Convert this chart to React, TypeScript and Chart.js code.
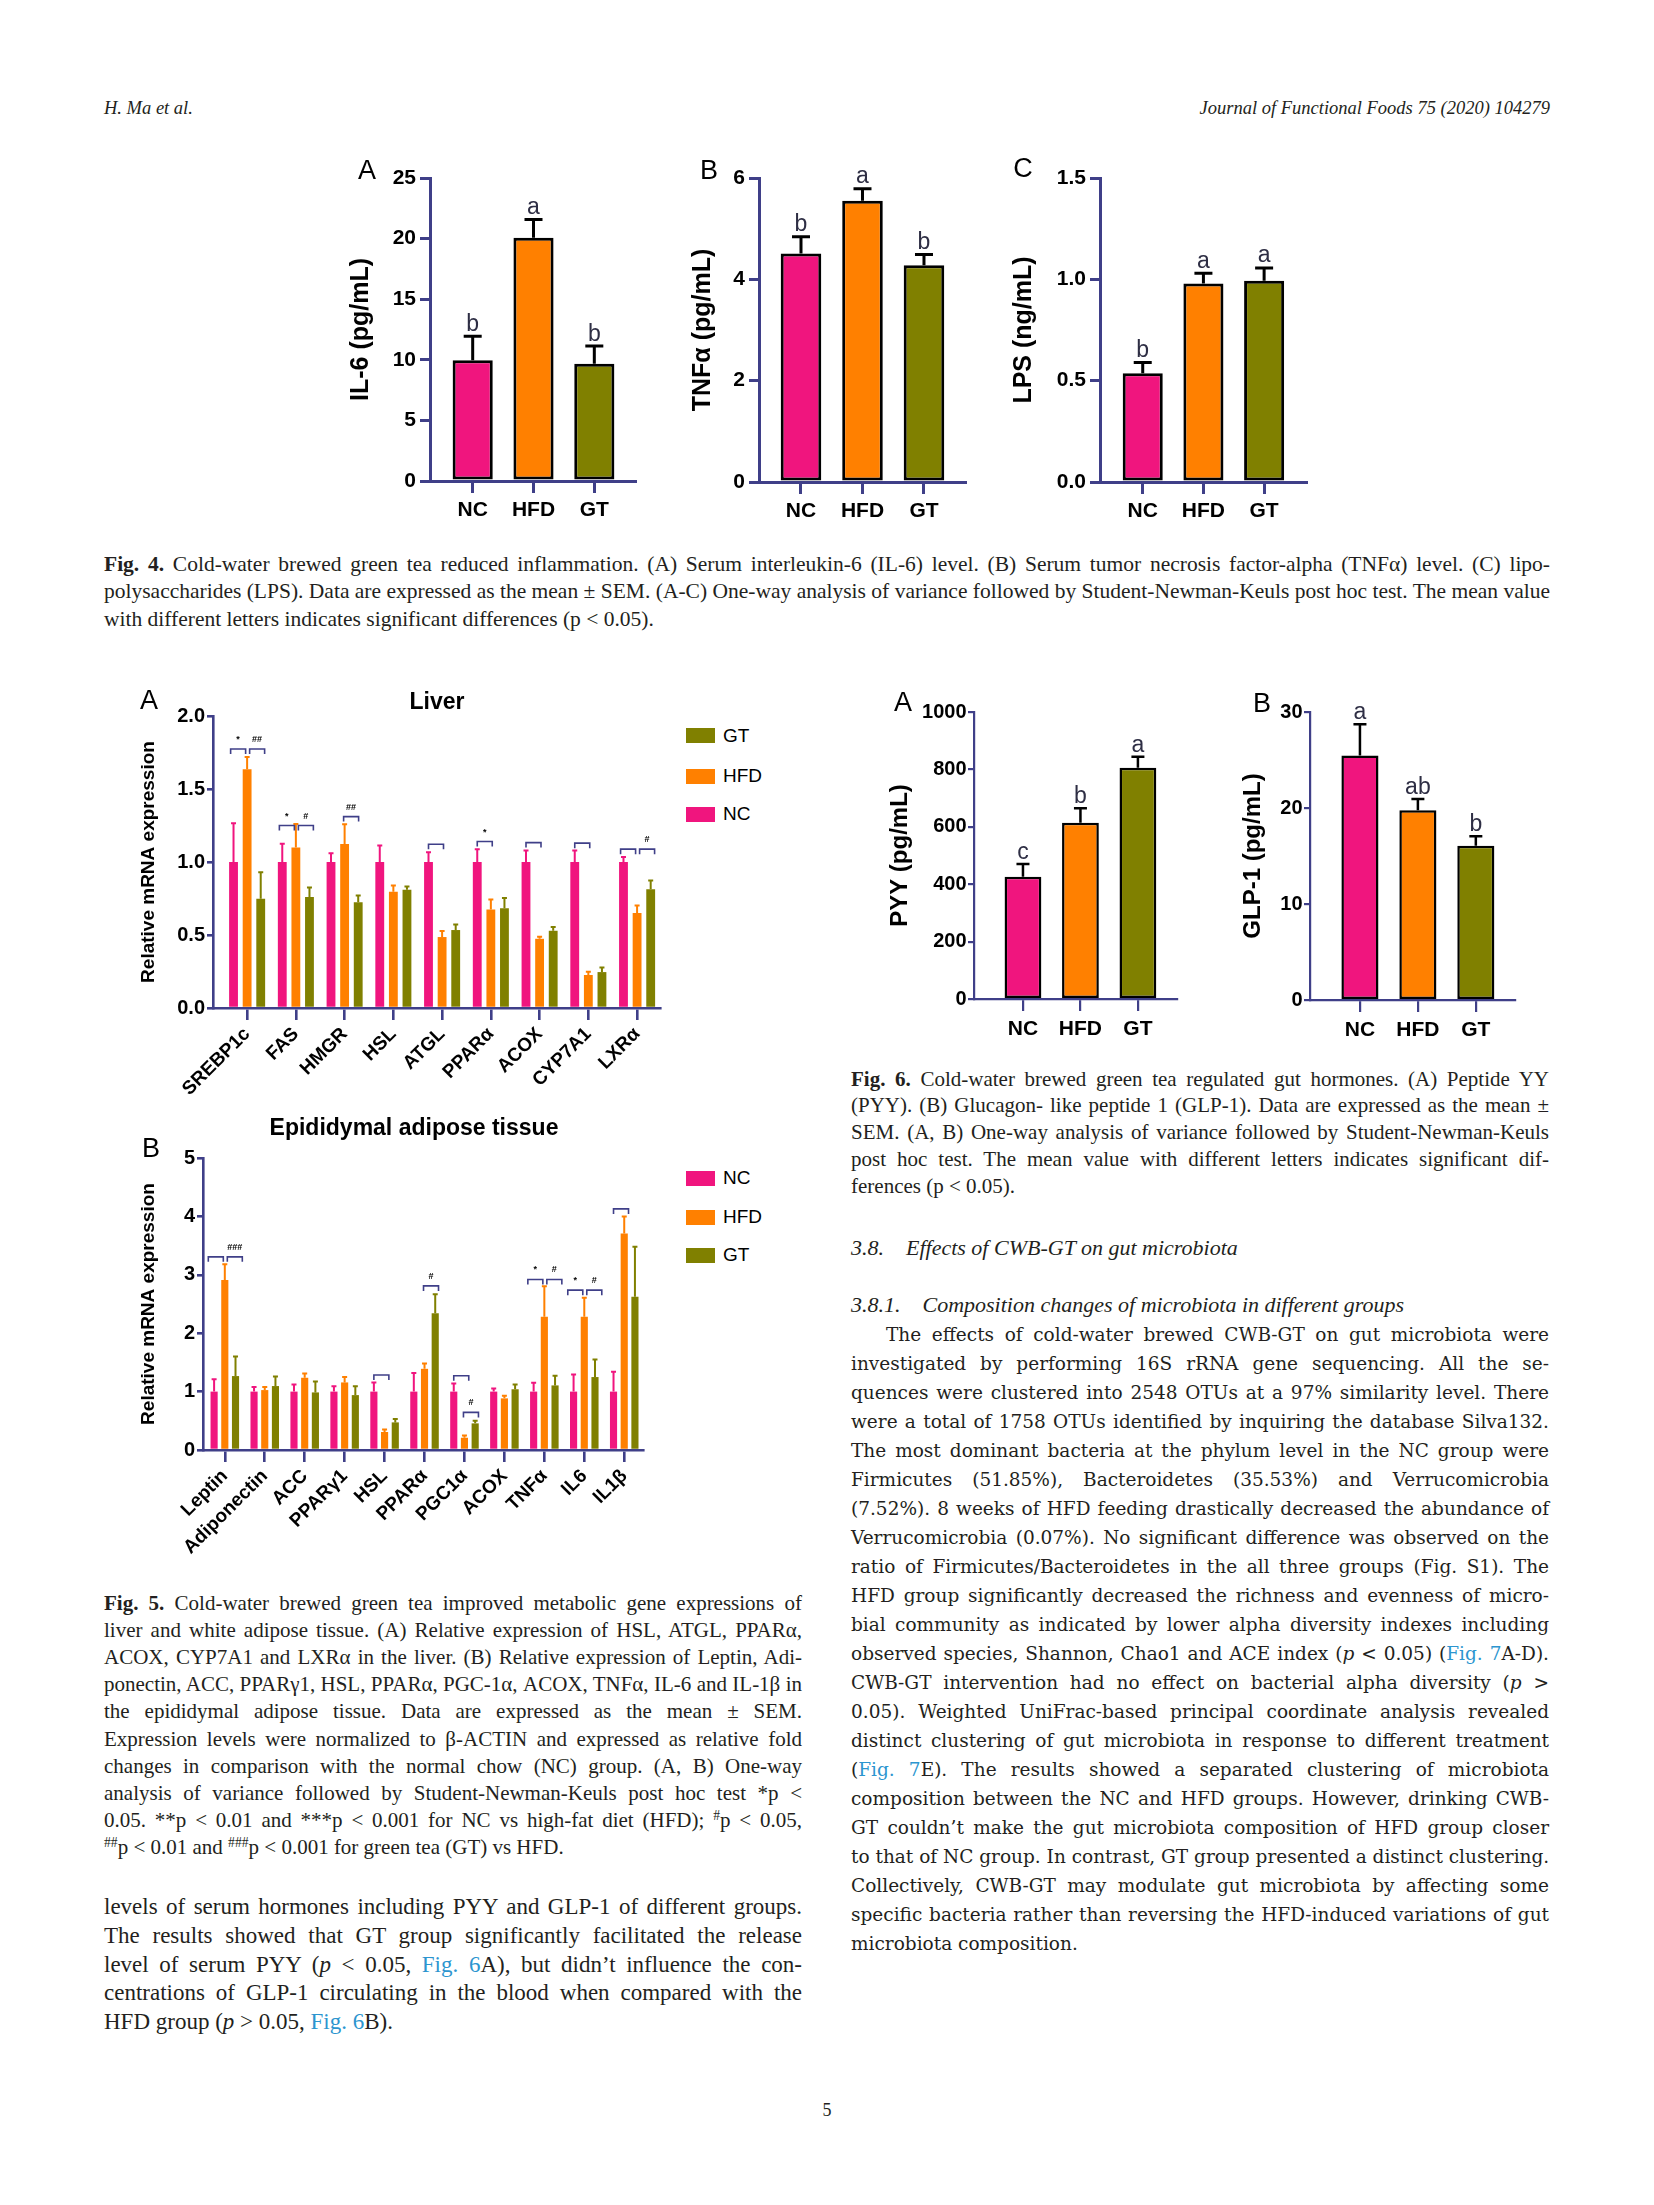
import React, { useEffect, useLayoutEffect, useRef } from 'react';
import { Chart, registerables } from 'chart.js';
Chart.register(...registerables);

// ---------------- data ----------------
const GROUPS = ['NC', 'HFD', 'GT'];
const GROUP_COLORS = ['#f0157e', '#ff8000', '#808000'];

// Fig. 4
const IL6_MEAN = [9.97, 20.08, 9.67];
const IL6_SEM = [1.98, 1.49, 1.46];
const IL6_LETTERS = ['b', 'a', 'b'];
const TNF_MEAN = [4.51, 5.55, 4.28];
const TNF_SEM = [0.33, 0.24, 0.21];
const TNF_LETTERS = ['b', 'a', 'b'];
const LPS_MEAN = [0.537, 0.98, 0.993];
const LPS_SEM = [0.053, 0.05, 0.063];
const LPS_LETTERS = ['b', 'a', 'a'];

// Fig. 6
const PYY_MEAN = [426, 614, 806];
const PYY_SEM = [44, 51, 38];
const PYY_LETTERS = ['c', 'b', 'a'];
const GLP1_MEAN = [25.46, 19.77, 16.06];
const GLP1_SEM = [3.26, 1.18, 1.01];
const GLP1_LETTERS = ['a', 'ab', 'b'];

// Fig. 5A Liver
const LIVER_GENES = ['SREBP1c', 'FAS', 'HMGR', 'HSL', 'ATGL', 'PPARα', 'ACOX', 'CYP7A1', 'LXRα'];
const LIVER_NC = [1, 1, 1, 1, 1, 1, 1, 1, 1];
const LIVER_NC_SEM = [0.266, 0.125, 0.06, 0.113, 0.067, 0.088, 0.079, 0.079, 0.035];
const LIVER_HFD = [1.635, 1.1, 1.124, 0.796, 0.486, 0.675, 0.474, 0.226, 0.65];
const LIVER_HFD_SEM = [0.085, 0.16, 0.135, 0.043, 0.041, 0.068, 0.014, 0.023, 0.052];
const LIVER_GT = [0.748, 0.76, 0.725, 0.81, 0.534, 0.684, 0.529, 0.246, 0.814];
const LIVER_GT_SEM = [0.182, 0.065, 0.045, 0.022, 0.038, 0.069, 0.025, 0.032, 0.059];
// significance brackets: category index, pair (0 = NC-HFD, 1 = HFD-GT), height, symbol
const LIVER_BRACKETS = [
  { cat: 0, pair: 0, y: 1.774, sym: '*' },
  { cat: 0, pair: 1, y: 1.774, sym: '##' },
  { cat: 1, pair: 0, y: 1.25, sym: '*' },
  { cat: 1, pair: 1, y: 1.25, sym: '#' },
  { cat: 2, pair: 1, y: 1.311, sym: '##' },
  { cat: 4, pair: 0, y: 1.122, sym: '' },
  { cat: 5, pair: 0, y: 1.14, sym: '*' },
  { cat: 6, pair: 0, y: 1.133, sym: '' },
  { cat: 7, pair: 0, y: 1.129, sym: '' },
  { cat: 8, pair: 0, y: 1.088, sym: '' },
  { cat: 8, pair: 1, y: 1.088, sym: '#' },
];

// Fig. 5B Epididymal adipose tissue
const ADIPO_GENES = ['Leptin', 'Adiponectin', 'ACC', 'PPARγ1', 'HSL', 'PPARα', 'PGC1α', 'ACOX', 'TNFα', 'IL6', 'IL1β'];
const ADIPO_NC = [1, 1, 1, 1, 1, 1, 1, 1, 1, 1, 1];
const ADIPO_NC_SEM = [0.21, 0.08, 0.12, 0.09, 0.157, 0.317, 0.14, 0.055, 0.15, 0.294, 0.34];
const ADIPO_HFD = [2.91, 1.026, 1.237, 1.157, 0.308, 1.39, 0.21, 0.884, 2.28, 2.28, 3.706];
const ADIPO_HFD_SEM = [0.27, 0.054, 0.073, 0.092, 0.045, 0.09, 0.04, 0.046, 0.525, 0.325, 0.291];
const ADIPO_GT = [1.266, 1.095, 0.986, 0.94, 0.473, 2.343, 0.456, 1.04, 1.106, 1.249, 2.623];
const ADIPO_GT_SEM = [0.334, 0.165, 0.188, 0.15, 0.057, 0.325, 0.044, 0.08, 0.164, 0.301, 0.857];
const ADIPO_BRACKETS = [
  { cat: 0, pair: 0, y: 3.307, sym: '' },
  { cat: 0, pair: 1, y: 3.307, sym: '###' },
  { cat: 4, pair: 0, y: 1.283, sym: '' },
  { cat: 5, pair: 1, y: 2.81, sym: '#' },
  { cat: 6, pair: 0, y: 1.271, sym: '' },
  { cat: 6, pair: 1, y: 0.644, sym: '#' },
  { cat: 8, pair: 0, y: 2.92, sym: '*' },
  { cat: 8, pair: 1, y: 2.92, sym: '#' },
  { cat: 9, pair: 0, y: 2.737, sym: '*' },
  { cat: 9, pair: 1, y: 2.737, sym: '#' },
  { cat: 10, pair: 0, y: 4.128, sym: '' },
];

// ---------------- style ----------------
const AXIS_COLOR = '#3f3f88';
const SANS = '"Liberation Sans", Arial, Helvetica, sans-serif';
const SERIF = '"Liberation Serif", "Times New Roman", serif';
const BODY_SERIF = '"DejaVu Serif", "Liberation Serif", serif';
const INK = '#231f20';
const LINK = '#2c95cf';

type Series = { values: number[]; sem: number[]; color: any };
type Bracket = { cat: number; pair: number; y: number; sym: string };
type Panel = {
  area: number[]; yW: number; padTop: number; padRight: number; xH: number;
  xMin: number; xMax: number; yMax: number; yStep: number; yDec: number;
  labels: string[]; rot: number; series: Series[]; letters?: string[]; brackets?: Bracket[];
  title: string; titleSize: number; titleCenter: number; tickFont: number; labelFont: number;
  yTickLen: number; xTickLen: number; yTickPad: number; xTickPad: number; axisW: number;
  barBorder: number; catPct: number; barPct: number; errColor: string | null; errW: number; cap: number;
  letterFont: number;
};

function simpleSeries(mean: number[], sem: number[]): Series[] {
  // one dataset, each bar coloured by its group
  return [{ values: mean, sem, color: GROUP_COLORS }];
}

const FIG4_BASE = {
  yW: 85, padTop: 40, padRight: 10, xH: 50, rot: 0, labels: GROUPS,
  titleSize: 25, tickFont: 21, labelFont: 21, yTickLen: 10, xTickLen: 12, yTickPad: 4, xTickPad: 5, axisW: 3,
  barBorder: 3, catPct: 1, barPct: 0.66, errColor: '#000', errW: 3, cap: 18, letterFont: 23,
};

const FIG4A: Panel = { ...FIG4_BASE, area: [430, 178, 635, 481], xMin: -0.702, xMax: 2.669, yMax: 25, yStep: 5, yDec: 0,
  series: simpleSeries(IL6_MEAN, IL6_SEM), letters: IL6_LETTERS, title: 'IL-6 (pg/mL)', titleCenter: 361 };
const FIG4B: Panel = { ...FIG4_BASE, yW: 80, area: [759, 178, 965, 482], xMin: -0.683, xMax: 2.667, yMax: 6, yStep: 2, yDec: 0,
  series: simpleSeries(TNF_MEAN, TNF_SEM), letters: TNF_LETTERS, title: 'TNFα (pg/mL)', titleCenter: 703 };
const FIG4C: Panel = { ...FIG4_BASE, yW: 95, area: [1100, 178, 1306, 482], xMin: -0.704, xMax: 2.69, yMax: 1.5, yStep: 0.5, yDec: 1,
  series: simpleSeries(LPS_MEAN, LPS_SEM), letters: LPS_LETTERS, title: 'LPS (ng/mL)', titleCenter: 1024 };

const FIG6_BASE = {
  ...FIG4_BASE, titleSize: 24, tickFont: 20, labelFont: 21, yTickLen: 6, xTickLen: 12, yTickPad: 1.5, xTickPad: 6, axisW: 2.2,
  barBorder: 2.5, barPct: 0.64, errW: 2.5, cap: 13, letterFont: 23,
};
const FIG6A: Panel = { ...FIG6_BASE, yW: 100, area: [974, 712, 1177, 999], xMin: -0.852, xMax: 2.68, yMax: 1000, yStep: 200, yDec: 0,
  series: simpleSeries(PYY_MEAN, PYY_SEM), letters: PYY_LETTERS, title: 'PYY (pg/mL)', titleCenter: 900 };
const FIG6B: Panel = { ...FIG6_BASE, yW: 80, area: [1310, 712, 1515, 1000], xMin: -0.862, xMax: 2.676, yMax: 30, yStep: 10, yDec: 0,
  series: simpleSeries(GLP1_MEAN, GLP1_SEM), letters: GLP1_LETTERS, title: 'GLP-1 (pg/mL)', titleCenter: 1253 };

const FIG5_BASE = {
  padTop: 20, padRight: 5, rot: 45, titleSize: 19, tickFont: 20, labelFont: 19, yTickLen: 6, xTickLen: 12,
  yTickPad: 2, xTickPad: 3, axisW: 2.6, barBorder: 0, errColor: null, errW: 2, cap: 5, letterFont: 20,
  title: 'Relative mRNA expression', titleCenter: 148.6,
};
const FIG5A: Panel = { ...FIG5_BASE, yW: 84, xH: 110, area: [213, 716, 660, 1008], xMin: -0.70, xMax: 8.47, yMax: 2, yStep: 0.5, yDec: 1,
  labels: LIVER_GENES, catPct: 0.837, barPct: 0.65,
  series: [
    { values: LIVER_NC, sem: LIVER_NC_SEM, color: GROUP_COLORS[0] },
    { values: LIVER_HFD, sem: LIVER_HFD_SEM, color: GROUP_COLORS[1] },
    { values: LIVER_GT, sem: LIVER_GT_SEM, color: GROUP_COLORS[2] },
  ], brackets: LIVER_BRACKETS };
const FIG5B: Panel = { ...FIG5_BASE, yW: 75, xH: 125, area: [203, 1158, 643, 1450], xMin: -0.546, xMax: 10.47, yMax: 5, yStep: 1, yDec: 0,
  labels: ADIPO_GENES, catPct: 0.804, barPct: 0.667,
  series: [
    { values: ADIPO_NC, sem: ADIPO_NC_SEM, color: GROUP_COLORS[0] },
    { values: ADIPO_HFD, sem: ADIPO_HFD_SEM, color: GROUP_COLORS[1] },
    { values: ADIPO_GT, sem: ADIPO_GT_SEM, color: GROUP_COLORS[2] },
  ], brackets: ADIPO_BRACKETS };

function buildChart(canvas: HTMLCanvasElement, p: Panel) {
  const [L] = p.area;
  const titlePad = p.titleCenter - (L - p.yW) - (p.titleSize * 1.2) / 2;
  const annot = {
    id: 'annot',
    afterDatasetsDraw(chart: any) {
      const ctx = chart.ctx;
      const ys = chart.scales.y;
      ctx.save();
      p.series.forEach((s, di) => {
        const meta = chart.getDatasetMeta(di);
        meta.data.forEach((bar: any, i: number) => {
          const vy = ys.getPixelForValue(s.values[i]);
          const ty = ys.getPixelForValue(s.values[i] + s.sem[i]);
          const col = p.errColor || (Array.isArray(s.color) ? s.color[i] : s.color);
          ctx.strokeStyle = col;
          ctx.lineWidth = p.errW;
          ctx.lineCap = 'butt';
          ctx.beginPath();
          ctx.moveTo(bar.x, vy);
          ctx.lineTo(bar.x, ty);
          ctx.moveTo(bar.x - p.cap / 2, ty);
          ctx.lineTo(bar.x + p.cap / 2, ty);
          ctx.stroke();
          if (p.letters) {
            ctx.fillStyle = '#2e2e44';
            ctx.font = `${p.letterFont}px ${SANS}`;
            ctx.textAlign = 'center';
            ctx.textBaseline = 'alphabetic';
            ctx.fillText(p.letters[i], bar.x, ty - p.errW / 2 - 4);
          }
        });
      });
      if (p.brackets) {
        const m0 = chart.getDatasetMeta(0);
        const m1 = chart.getDatasetMeta(1);
        const bw = 15;
        p.brackets.forEach((b) => {
          const cNC = m0.data[b.cat].x;
          const cH = m1.data[b.cat].x;
          const dbl = p.brackets!.some((o) => o !== b && o.cat === b.cat && o.y === b.y);
          let x1: number;
          if (dbl) x1 = b.pair === 0 ? cH - 16.5 : cH + 2.5;
          else x1 = b.pair === 0 ? cNC : cH - 1;
          const x2 = x1 + bw;
          const y = ys.getPixelForValue(b.y);
          ctx.strokeStyle = AXIS_COLOR;
          ctx.lineWidth = 1.6;
          ctx.beginPath();
          ctx.moveTo(x1, y + 5);
          ctx.lineTo(x1, y);
          ctx.lineTo(x2, y);
          ctx.lineTo(x2, y + 5);
          ctx.stroke();
          if (b.sym) {
            ctx.fillStyle = '#000';
            ctx.font = `bold 9px ${SANS}`;
            ctx.textAlign = 'center';
            ctx.textBaseline = 'alphabetic';
            ctx.fillText(b.sym, (x1 + x2) / 2, y - 7);
          }
        });
      }
      ctx.restore();
    },
  };
  const yTicks: number[] = [];
  for (let v = 0; v <= p.yMax + 1e-9; v += p.yStep) yTicks.push(+v.toFixed(6));
  const gridCommon = { offset: false, drawOnChartArea: false, drawTicks: true, tickWidth: p.axisW, tickColor: AXIS_COLOR, color: AXIS_COLOR, lineWidth: p.axisW };
  return new Chart(canvas, {
    type: 'bar',
    data: {
      datasets: p.series.map((s, i) => ({
        label: GROUPS[i],
        data: s.values.map((v, j) => ({ x: j, y: v })),
        backgroundColor: s.color,
        borderColor: '#000',
        borderWidth: p.barBorder,
        borderSkipped: false,
        categoryPercentage: p.catPct,
        barPercentage: p.barPct,
      })),
    },
    options: {
      responsive: false,
      animation: false,
      devicePixelRatio: 1,
      events: [],
      layout: { padding: { left: 0, top: p.padTop, right: p.padRight, bottom: 0 } },
      plugins: { legend: { display: false }, tooltip: { enabled: false }, title: { display: false } },
      scales: {
        x: {
          type: 'linear', min: p.xMin, max: p.xMax, offset: false, bounds: 'data',
          afterBuildTicks: (s: any) => { s.ticks = p.labels.map((_, i) => ({ value: i })); },
          afterFit: (s: any) => { s.height = p.xH; },
          ticks: {
            autoSkip: false, maxRotation: p.rot, minRotation: p.rot, padding: p.xTickPad, color: '#000',
            font: { family: SANS, size: p.labelFont, weight: 'bold' },
            callback: (v: any) => p.labels[Math.round(Number(v))] ?? '',
          },
          grid: { ...gridCommon, tickLength: p.xTickLen },
          border: { display: true, color: AXIS_COLOR, width: p.axisW },
        },
        y: {
          type: 'linear', min: 0, max: p.yMax, bounds: 'data',
          afterBuildTicks: (s: any) => { s.ticks = yTicks.map((v) => ({ value: v })); },
          afterFit: (s: any) => { s.width = p.yW; },
          ticks: {
            padding: p.yTickPad, color: '#000',
            font: { family: SANS, size: p.tickFont, weight: 'bold' },
            callback: (v: any) => Number(v).toFixed(p.yDec),
          },
          grid: { ...gridCommon, tickLength: p.yTickLen },
          border: { display: true, color: AXIS_COLOR, width: p.axisW },
          title: {
            display: true, text: p.title, color: '#000',
            font: { family: SANS, size: p.titleSize, weight: 'bold' },
            padding: { top: titlePad, bottom: 0 },
          },
        },
      },
    } as any,
    plugins: [annot],
  });
}

function ChartPanel({ p }: { p: Panel }) {
  const ref = useRef<HTMLCanvasElement>(null);
  const [L, T, R, B] = p.area;
  const left = L - p.yW;
  const top = T - p.padTop;
  const w = p.yW + (R - L) + p.padRight;
  const h = p.padTop + (B - T) + p.xH;
  useEffect(() => {
    const c = buildChart(ref.current!, p);
    return () => c.destroy();
  }, [p]);
  return <canvas ref={ref} width={w} height={h} style={{ position: 'absolute', left, top, width: w, height: h }} />;
}

// ---------------- text helpers ----------------
function TL({ x, y, w, size, lh, just = true, italic = false, indent = 0, family = SERIF, children }: any) {
  return (
    <div
      className="tl"
      data-lh={lh}
      style={{
        position: 'absolute', left: x, top: y - lh / 2, width: w, height: lh, lineHeight: lh + 'px',
        fontSize: size, fontFamily: family, fontStyle: italic ? 'italic' : 'normal', color: INK,
        textAlign: just ? 'justify' : 'left', textAlignLast: just ? 'justify' : 'left',
        paddingLeft: indent, boxSizing: 'border-box', transformOrigin: 'left center',
      } as any}
    >
      {children}
    </div>
  );
}
const Sup = ({ c }: { c: string }) => <sup style={{ fontSize: '0.65em', lineHeight: 0, verticalAlign: '0.5em' }}>{c}</sup>;
const Lk = ({ c }: { c: string }) => <span style={{ color: LINK }}>{c}</span>;

const FIG4_CAPTION = [
  <><b>Fig. 4.</b>{'  '}Cold-water brewed green tea reduced inflammation. (A) Serum interleukin-6 (IL-6) level. (B) Serum tumor necrosis factor-alpha (TNFα) level. (C) lipo-</>,
  <>polysaccharides (LPS). Data are expressed as the mean ± SEM. (A-C) One-way analysis of variance followed by Student-Newman-Keuls post hoc test. The mean value</>,
  <>with different letters indicates significant differences (p {'<'} 0.05).</>,
];
const FIG5_CAPTION = [
  <><b>Fig. 5.</b>{'  '}Cold-water brewed green tea improved metabolic gene expressions of</>,
  <>liver and white adipose tissue. (A) Relative expression of HSL, ATGL, PPARα,</>,
  <>ACOX, CYP7A1 and LXRα in the liver. (B) Relative expression of Leptin, Adi-</>,
  <>ponectin, ACC, PPARγ1, HSL, PPARα, PGC-1α, ACOX, TNFα, IL-6 and IL-1β in</>,
  <>the epididymal adipose tissue. Data are expressed as the mean ± SEM.</>,
  <>Expression levels were normalized to β-ACTIN and expressed as relative fold</>,
  <>changes in comparison with the normal chow (NC) group. (A, B) One-way</>,
  <>analysis of variance followed by Student-Newman-Keuls post hoc test *p {'<'}</>,
  <>0.05. **p {'<'} 0.01 and ***p {'<'} 0.001 for NC vs high-fat diet (HFD); <Sup c="#" />p {'<'} 0.05,</>,
  <><Sup c="##" />p {'<'} 0.01 and <Sup c="###" />p {'<'} 0.001 for green tea (GT) vs HFD.</>,
];
const LEFT_PARA = [
  <>levels of serum hormones including PYY and GLP-1 of different groups.</>,
  <>The results showed that GT group significantly facilitated the release</>,
  <>level of serum PYY (<i>p</i> {'<'} 0.05, <Lk c="Fig. 6" />A), but didn’t influence the con-</>,
  <>centrations of GLP-1 circulating in the blood when compared with the</>,
  <>HFD group (<i>p</i> {'>'} 0.05, <Lk c="Fig. 6" />B).</>,
];
const FIG6_CAPTION = [
  <><b>Fig. 6.</b>{'  '}Cold-water brewed green tea regulated gut hormones. (A) Peptide YY</>,
  <>(PYY). (B) Glucagon- like peptide 1 (GLP-1). Data are expressed as the mean ±</>,
  <>SEM. (A, B) One-way analysis of variance followed by Student-Newman-Keuls</>,
  <>post hoc test. The mean value with different letters indicates significant dif-</>,
  <>ferences (p {'<'} 0.05).</>,
];
const RIGHT_PARA = [
  <>The effects of cold-water brewed CWB-GT on gut microbiota were</>,
  <>investigated by performing 16S rRNA gene sequencing. All the se-</>,
  <>quences were clustered into 2548 OTUs at a 97% similarity level. There</>,
  <>were a total of 1758 OTUs identified by inquiring the database Silva132.</>,
  <>The most dominant bacteria at the phylum level in the NC group were</>,
  <>Firmicutes (51.85%), Bacteroidetes (35.53%) and Verrucomicrobia</>,
  <>(7.52%). 8 weeks of HFD feeding drastically decreased the abundance of</>,
  <>Verrucomicrobia (0.07%). No significant difference was observed on the</>,
  <>ratio of Firmicutes/Bacteroidetes in the all three groups (Fig. S1). The</>,
  <>HFD group significantly decreased the richness and evenness of micro-</>,
  <>bial community as indicated by lower alpha diversity indexes including</>,
  <>observed species, Shannon, Chao1 and ACE index (<i>p</i> {'<'} 0.05) (<Lk c="Fig. 7" />A-D).</>,
  <>CWB-GT intervention had no effect on bacterial alpha diversity (<i>p</i> {'>'}</>,
  <>0.05). Weighted UniFrac-based principal coordinate analysis revealed</>,
  <>distinct clustering of gut microbiota in response to different treatment</>,
  <>(<Lk c="Fig. 7" />E). The results showed a separated clustering of microbiota</>,
  <>composition between the NC and HFD groups. However, drinking CWB-</>,
  <>GT couldn’t make the gut microbiota composition of HFD group closer</>,
  <>to that of NC group. In contrast, GT group presented a distinct clustering.</>,
  <>Collectively, CWB-GT may modulate gut microbiota by affecting some</>,
  <>specific bacteria rather than reversing the HFD-induced variations of gut</>,
  <>microbiota composition.</>,
];

function PanelLetter({ x, y, c }: { x: number; y: number; c: string }) {
  return (
    <div style={{ position: 'absolute', left: x, top: y, transform: 'translate(-50%, -50%)', fontFamily: SANS, fontSize: 27, lineHeight: 1, color: '#000' }}>{c}</div>
  );
}
function CenterText({ x, y, c, size, bold }: any) {
  return (
    <div style={{ position: 'absolute', left: x, top: y, transform: 'translate(-50%, -50%)', fontFamily: SANS, fontSize: size, fontWeight: bold ? 'bold' : 'normal', lineHeight: 1, whiteSpace: 'nowrap', color: '#000' }}>{c}</div>
  );
}
function Legend({ items, ys }: { items: number[]; ys: number[] }) {
  return (
    <>
      {items.map((g, i) => (
        <React.Fragment key={i}>
          <div style={{ position: 'absolute', left: 686, top: ys[i] - 7.5, width: 29, height: 15, background: GROUP_COLORS[g] }} />
          <div style={{ position: 'absolute', left: 723, top: ys[i] - 11, fontFamily: SANS, fontSize: 19, lineHeight: '22px', color: '#000' }}>{GROUPS[g]}</div>
        </React.Fragment>
      ))}
    </>
  );
}

export default function App() {
  useLayoutEffect(() => {
    document.querySelectorAll<HTMLElement>('.tl').forEach((el) => {
      const lh = Number(el.dataset.lh);
      if (el.scrollHeight > lh + 4) {
        el.style.whiteSpace = 'nowrap';
        el.style.textAlignLast = 'left';
        const sw = el.scrollWidth;
        const cw = el.clientWidth;
        if (sw > cw) {
          el.style.width = sw + 'px';
          el.style.transform = `scaleX(${cw / sw})`;
        }
      }
    });
  }, []);

  return (
    <div style={{ position: 'absolute', left: 0, top: 0, width: 1654, height: 2205, background: '#fff', overflow: 'hidden' }}>
      {/* running heads */}
      <div style={{ position: 'absolute', left: 104, top: 97, fontFamily: SERIF, fontStyle: 'italic', fontSize: 18.5, lineHeight: '22px', color: INK }}>H. Ma et al.</div>
      <div style={{ position: 'absolute', right: 1654 - 1550, top: 97, fontFamily: SERIF, fontStyle: 'italic', fontSize: 18.5, lineHeight: '22px', color: INK, whiteSpace: 'nowrap' }}>Journal of Functional Foods 75 (2020) 104279</div>

      {/* Fig 4 */}
      <ChartPanel p={FIG4A} />
      <ChartPanel p={FIG4B} />
      <ChartPanel p={FIG4C} />
      <PanelLetter x={367} y={170} c="A" />
      <PanelLetter x={709} y={170} c="B" />
      <PanelLetter x={1023} y={168} c="C" />
      {FIG4_CAPTION.map((c, i) => (
        <TL key={'c4' + i} x={104} y={564 + i * 27.5} w={1446} size={21.5} lh={27} just={i < FIG4_CAPTION.length - 1}>{c}</TL>
      ))}

      {/* Fig 5 */}
      <ChartPanel p={FIG5A} />
      <ChartPanel p={FIG5B} />
      <PanelLetter x={149} y={700} c="A" />
      <PanelLetter x={151} y={1148} c="B" />
      <CenterText x={437} y={701} c="Liver" size={23} bold />
      <CenterText x={414} y={1127} c="Epididymal adipose tissue" size={23} bold />
      <Legend items={[2, 1, 0]} ys={[735.5, 776, 814]} />
      <Legend items={[0, 1, 2]} ys={[1178, 1217, 1255]} />
      {FIG5_CAPTION.map((c, i) => (
        <TL key={'c5' + i} x={104} y={1603 + i * 27.2} w={698} size={21} lh={27} just={i < FIG5_CAPTION.length - 1}>{c}</TL>
      ))}
      {LEFT_PARA.map((c, i) => (
        <TL key={'lp' + i} x={104} y={1907 + i * 28.8} w={698} size={23} lh={28} just={i < LEFT_PARA.length - 1}>{c}</TL>
      ))}

      {/* Fig 6 */}
      <ChartPanel p={FIG6A} />
      <ChartPanel p={FIG6B} />
      <PanelLetter x={903} y={702} c="A" />
      <PanelLetter x={1262} y={703} c="B" />
      {FIG6_CAPTION.map((c, i) => (
        <TL key={'c6' + i} x={851} y={1079 + i * 26.8} w={698} size={21} lh={27} just={i < FIG6_CAPTION.length - 1}>{c}</TL>
      ))}
      <TL x={851} y={1248} w={698} size={22} lh={28} just={false} italic>3.8.{'\u2003'}Effects of CWB-GT on gut microbiota</TL>
      <TL x={851} y={1305} w={698} size={22} lh={28} just={false} italic>3.8.1.{'\u2003'}Composition changes of microbiota in different groups</TL>
      {RIGHT_PARA.map((c, i) => (
        <TL key={'rp' + i} x={851} y={1334.8 + i * 29} w={698} size={18.5} lh={28} family={BODY_SERIF} indent={i === 0 ? 35 : 0} just={i < RIGHT_PARA.length - 1}>{c}</TL>
      ))}

      <div style={{ position: 'absolute', left: 827, top: 2110, transform: 'translate(-50%, -50%)', fontFamily: SERIF, fontSize: 18, color: INK }}>5</div>
    </div>
  );
}
